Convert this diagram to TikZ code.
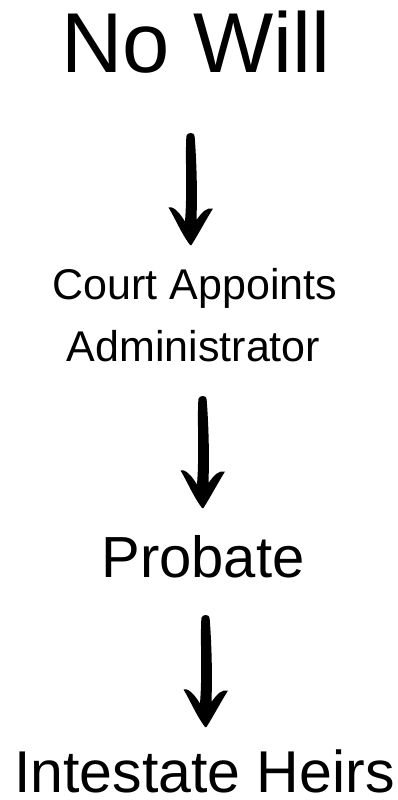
\documentclass[tikz,border=0pt]{standalone}
\usepackage{fontspec}
\setmainfont{Liberation Sans}
\begin{document}
\begin{tikzpicture}[x=1pt,y=-1pt,
  title/.style={inner sep=0pt,anchor=base,font=\fontsize{85}{90}\selectfont},
  step label/.style={inner sep=0pt,anchor=base,font=\fontsize{43}{50}\selectfont},
  big label/.style={inner sep=0pt,anchor=base,text depth=0pt,font=\fontsize{58}{64}\selectfont},
  brush arrow/.pic={
    % hand-brushed downward arrow, tip at the origin
    \fill[black] (0,0)
      .. controls (-9,-12) and (-15,-27) .. (-21.5,-37.5)
      .. controls (-18,-39) and (-12,-35) .. (-5,-23.5)
      .. controls (-2.5,-55) and (-5,-88) .. (-3.6,-109)
      .. controls (-3,-113) and (4.5,-113) .. (4.6,-109)
      .. controls (6.5,-85) and (7.5,-55) .. (6.5,-25)
      .. controls (12,-33) and (17,-38) .. (23,-36.5)
      .. controls (17,-27) and (9,-12) .. (1.5,0)
      -- cycle;
  }]
\useasboundingbox (0,0) rectangle (398,800);

\node[title] (nowill) at (196,73) {No Will};
\node[step label] (court) at (195,299) {Court Appoints};
\node[step label] (admin) at (193.5,361) {Administrator};
\node[big label] (probate) at (203,577) {Probate};
\node[big label,font=\fontsize{59}{65}\selectfont] (heirs) at (204.5,792) {Intestate Heirs};

\coordinate (tip1) at (190,245);
\coordinate (tip2) at (202,508);
\coordinate (tip3) at (205,727);

\pic at (tip1) {brush arrow};
\pic at (tip2) {brush arrow};
\pic at (tip3) {brush arrow};
\end{tikzpicture}
\end{document}
